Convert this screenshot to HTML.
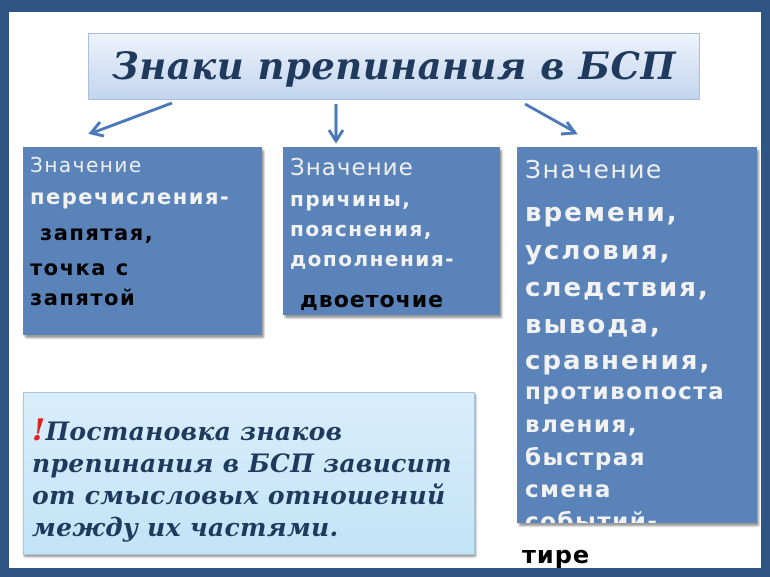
<!DOCTYPE html>
<html><head><meta charset="utf-8"><style>
body{margin:0;width:770px;height:577px;background:#2f5585;position:relative;overflow:hidden;font-family:"DejaVu Sans","Liberation Sans",sans-serif}
.in{position:absolute;left:9px;top:12px;width:752px;height:556px;background:#fff}
.t{position:absolute;left:88px;top:33px;width:612px;height:67px;background:linear-gradient(#eef3fb,#c2d5ee);border:1px solid #a9bfdc;box-sizing:border-box;text-align:center;font:italic bold 37px/65px "DejaVu Serif","Liberation Serif",serif;color:#1f3a5c;letter-spacing:0.5px}
.b{position:absolute;background:#5983b9;box-shadow:2px 3px 2px #9a9a9a}
.l{position:absolute;white-space:nowrap;color:#f2f2f2;font-weight:bold;line-height:1}
.n{font-weight:normal;color:#eee}
.k{color:#000}
.note{position:absolute;left:23px;top:392px;width:452px;height:163px;background:linear-gradient(#d9eefb,#c3e3f7);border:1px solid #aac6de;box-sizing:border-box;box-shadow:1px 2px 2px #999;padding:22px 0 0 8px;font:italic bold 25px/32px "DejaVu Serif","Liberation Serif",serif;color:#1f3a5c;letter-spacing:0.3px;white-space:nowrap}
</style></head><body>
<div class="in"></div>
<div class="t">Знаки препинания в БСП</div>
<svg style="position:absolute;left:0;top:0" width="770" height="577">
<g stroke="#4a78b8" stroke-width="3" fill="none">
<line x1="172" y1="103" x2="92" y2="133"/><polyline points="100,122 91,133 104,136"/>
<line x1="336" y1="104" x2="336" y2="140"/><polyline points="329,130 336,141 343,130"/>
<line x1="525" y1="104" x2="575" y2="132"/><polyline points="561,134 575,133 567,122"/>
</g></svg>
<div class="b" style="left:23px;top:147px;width:239px;height:188px"></div>
<div class="b" style="left:283px;top:147px;width:217px;height:168px"></div>
<div class="b" style="left:517px;top:147px;width:240px;height:376px"></div>

<div class="l n" style="left:30px;top:155px;font-size:20px;letter-spacing:1.5px">Значение</div>
<div class="l" style="left:30px;top:187px;font-size:21px;letter-spacing:1.5px">перечисления-</div>
<div class="l k" style="left:40px;top:223px;font-size:21px;letter-spacing:1.5px">запятая,</div>
<div class="l k" style="left:30px;top:258px;font-size:21px;letter-spacing:1.5px">точка с</div>
<div class="l k" style="left:30px;top:288px;font-size:21px;letter-spacing:1.5px">запятой</div>

<div class="l n" style="left:290px;top:157px;font-size:23px;letter-spacing:1px">Значение</div>
<div class="l" style="left:290px;top:189px;font-size:20px;letter-spacing:1.5px">причины,</div>
<div class="l" style="left:290px;top:219px;font-size:20px;letter-spacing:1.5px">пояснения,</div>
<div class="l" style="left:290px;top:249px;font-size:20px;letter-spacing:1.5px">дополнения-</div>
<div class="l k" style="left:300px;top:290px;font-size:22px;letter-spacing:1px">двоеточие</div>

<div class="l n" style="left:525px;top:157px;font-size:25px;letter-spacing:1.5px">Значение</div>
<div class="l" style="left:525px;top:200px;font-size:26px;letter-spacing:2px">времени,</div>
<div class="l" style="left:525px;top:238px;font-size:26px;letter-spacing:2px">условия,</div>
<div class="l" style="left:525px;top:275px;font-size:26px;letter-spacing:2px">следствия,</div>
<div class="l" style="left:525px;top:312px;font-size:26px;letter-spacing:2px">вывода,</div>
<div class="l" style="left:525px;top:348px;font-size:26px;letter-spacing:2px">сравнения,</div>
<div class="l" style="left:525px;top:381px;font-size:23px;letter-spacing:1.5px">противопоста</div>
<div class="l" style="left:525px;top:414px;font-size:23px;letter-spacing:1.5px">вления,</div>
<div class="l" style="left:525px;top:447px;font-size:23px;letter-spacing:1.5px">быстрая</div>
<div class="l" style="left:525px;top:479px;font-size:23px;letter-spacing:1.5px">смена</div>
<div class="l" style="left:525px;top:511px;font-size:23px;letter-spacing:1.5px;height:12px;overflow:hidden">событий-</div>
<div class="l k" style="left:522px;top:543px;font-size:24px;letter-spacing:1px">тире</div>

<div class="note"><span style="color:#e02020;font-size:30px">!</span>Постановка знаков<br>препинания в БСП зависит<br>от смысловых отношений<br>между их частями.</div>
</body></html>
